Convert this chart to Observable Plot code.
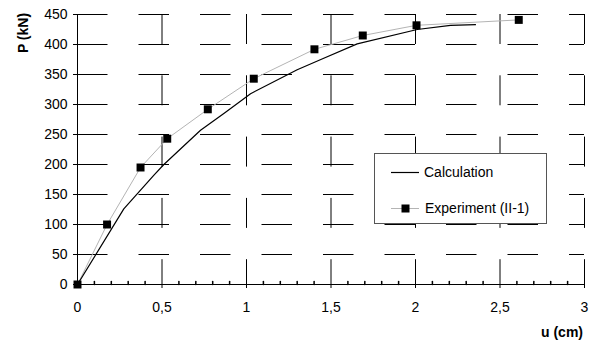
<!DOCTYPE html>
<html>
<head>
<meta charset="utf-8">
<script src="https://cdn.jsdelivr.net/npm/d3@7"></script>
<script src="https://cdn.jsdelivr.net/npm/@observablehq/plot@0.6"></script>
<style>
  html, body { margin: 0; padding: 0; background: #fff; }
  #wrap { position: relative; width: 596px; height: 342px; font-family: "Liberation Sans", Arial, sans-serif; }
  #legend { position: absolute; left: 374px; top: 153px; }
  .title { position: absolute; font-weight: bold; font-size: 14px; line-height: 14px; white-space: nowrap; color: #000; }
  #ytitle { left: 22.5px; top: 32.5px; transform: translate(-50%, -50%) rotate(-90deg); }
  #xtitle { right: 13px; top: 325px; }
</style>
</head>
<body>
<div id="wrap"></div>
<script>
// ---- data ----
const expU = [0, 0.175, 0.373, 0.531, 0.771, 1.043, 1.402, 1.688, 2.006, 2.611];
const expP = [0, 100, 195, 243, 292, 343, 392, 415, 432, 441];

const calcU = [0, 0.274, 0.451, 0.511, 0.728, 0.87, 1.024, 1.30, 1.44, 1.655, 2.01, 2.207, 2.355];
const calcP = [0, 126, 182, 200, 257, 286, 318, 358, 375, 401, 425, 432, 433];

const xTicks = [0, 0.5, 1, 1.5, 2, 2.5, 3];
const xTickLabels = ["0", "0,5", "1", "1,5", "2", "2,5", "3"];
const xMinorTicks = [0.1, 0.2, 0.3, 0.4, 0.6, 0.7, 0.8, 0.9, 1.1, 1.2, 1.3, 1.4, 1.6, 1.7, 1.8, 1.9, 2.1, 2.2, 2.3, 2.4, 2.6, 2.7, 2.8, 2.9];
const yTicks = [0, 50, 100, 150, 200, 250, 300, 350, 400, 450];

const seriesNames = ["Calculation", "Experiment (II-1)"];
const xLabel = "u (cm)";
const yLabel = "P (kN)";

const expData = expU.map((u, i) => ({u, p: expP[i]}));
const calcData = calcU.map((u, i) => ({u, p: calcP[i]}));

const upTick = {draw(context, l) { context.moveTo(0, 0); context.lineTo(0, -l); }};

const chart = Plot.plot({
  width: 596,
  height: 342,
  marginLeft: 77,
  marginRight: 12,
  marginTop: 14,
  marginBottom: 58,
  style: {fontFamily: "'Liberation Sans', Arial, sans-serif", fontSize: "14px", color: "#000", background: "#fff"},
  x: {domain: [0, 3]},
  y: {domain: [0, 450]},
  marks: [
    // dashed grid
    Plot.ruleY(yTicks.filter(d => d > 0), {y: d => d, x1: 0, x2: 3, stroke: "#000", strokeDasharray: "30.5,31"}),
    Plot.ruleX(xTicks.filter(d => d > 0), {x: d => d, y1: 450, y2: 0, stroke: "#000", strokeDasharray: "30,31.3"}),
    // axes
    Plot.axisY({ticks: yTicks, tickSize: 4, tickPadding: 6, label: null}),
    Plot.axisX({ticks: xTicks, tickSize: 4, tickPadding: 14, label: null,
      tickFormat: d => xTickLabels[xTicks.indexOf(d)]}),
    Plot.vector(xMinorTicks, {x: d => d, y: 0, length: 3, rotate: 0, anchor: "start", shape: upTick, stroke: "#000"}),
    Plot.ruleY([0], {stroke: "#000"}),
    Plot.ruleX([0], {stroke: "#000"}),
    // series
    Plot.line(expData, {x: "u", y: "p", stroke: "#b4b4b4", strokeWidth: 1}),
    Plot.line(calcData, {x: "u", y: "p", stroke: "#000", strokeWidth: 1.2}),
    Plot.dot(expData, {x: "u", y: "p", symbol: "square", r: 4.5, fill: "#000", stroke: null})
  ]
});

const wrap = document.getElementById("wrap");
wrap.appendChild(chart);

// axis titles
const yt = document.createElement("div");
yt.className = "title"; yt.id = "ytitle"; yt.textContent = yLabel;
wrap.appendChild(yt);
const xt = document.createElement("div");
xt.className = "title"; xt.id = "xtitle"; xt.textContent = xLabel;
wrap.appendChild(xt);

// legend overlay
const ns = "http://www.w3.org/2000/svg";
const lg = document.createElementNS(ns, "svg");
lg.setAttribute("id", "legend");
lg.setAttribute("width", 173);
lg.setAttribute("height", 71);
lg.innerHTML = `
  <rect x="0.5" y="0.5" width="172" height="70" fill="#fff" stroke="#555" stroke-width="1"/>
  <line x1="17" x2="45" y1="19.5" y2="19.5" stroke="#000" stroke-width="1.2"/>
  <text x="50" y="19.5" dy="0.35em" font-size="14" fill="#000" font-family="'Liberation Sans', Arial, sans-serif">${seriesNames[0]}</text>
  <line x1="17" x2="45" y1="55.5" y2="55.5" stroke="#b4b4b4" stroke-width="1"/>
  <rect x="27.5" y="51.5" width="8" height="8" fill="#000"/>
  <text x="51" y="55.5" dy="0.35em" font-size="14" fill="#000" font-family="'Liberation Sans', Arial, sans-serif">${seriesNames[1]}</text>
`;
wrap.appendChild(lg);
</script>
</body>
</html>
